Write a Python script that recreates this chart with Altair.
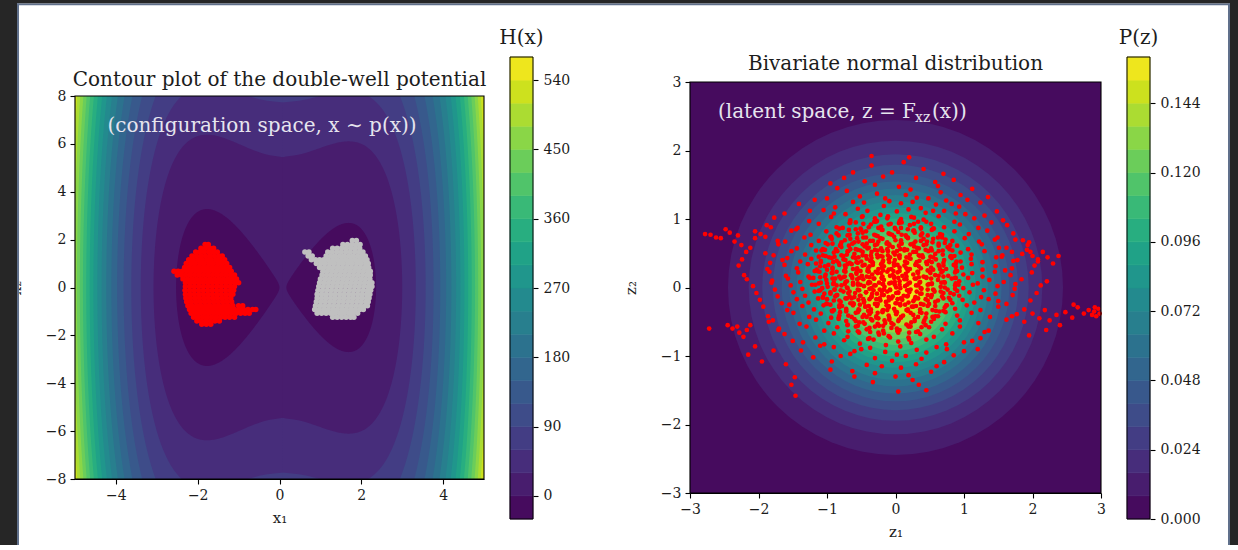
import math
import numpy as np
import pandas as pd
import altair as alt

alt.data_transformers.disable_max_rows()

FONT = "DejaVu Serif"
INK = "#1c1c1c"
NOTE = "#e6e4ee"

# Double-well potential H(x) = Q4*x1^4 + Q2*x1^2 + Q1*x1 + Q22*x2^2
Q4, Q2, Q1, Q22 = 1.0, -6.0, 1.0, 1.0
X1_DOMAIN = [-5, 5]
X2_DOMAIN = [-8, 8]
X1_TICKS = [-4, -2, 0, 2, 4]
X2_TICKS = [-8, -6, -4, -2, 0, 2, 4, 6, 8]
H_LEVELS = [-30, 0, 30, 60, 90, 120, 150, 180, 210, 240, 270, 300, 330,
            360, 390, 420, 450, 480, 510, 540, 570]
H_TICKS = [0, 90, 180, 270, 360, 450, 540]

# Standard bivariate normal density P(z)
Z_DOMAIN = [-3, 3]
Z_TICKS = [-3, -2, -1, 0, 1, 2, 3]
P_LEVELS = [0.000, 0.008, 0.016, 0.024, 0.032, 0.040, 0.048, 0.056, 0.064,
            0.072, 0.080, 0.088, 0.096, 0.104, 0.112, 0.120, 0.128, 0.136,
            0.144, 0.152, 0.160]
P_TICKS = [0.000, 0.024, 0.048, 0.072, 0.096, 0.120, 0.144]

# Samples in configuration space: rows of (x2, [x1 ...])
RED_ROWS = [
    (1.80, [-1.82, -1.74]),
    (1.64, [-1.92, -1.81, -1.70, -1.61]),
    (1.48, [-2.05, -1.95, -1.84, -1.73, -1.63, -1.52]),
    (1.32, [-2.14, -2.03, -1.92, -1.81, -1.70, -1.59, -1.48, -1.40]),
    (1.16, [-2.22, -2.11, -2.00, -1.89, -1.78, -1.67, -1.56, -1.45, -1.34]),
    (1.00, [-2.28, -2.17, -2.06, -1.95, -1.84, -1.73, -1.62, -1.51, -1.40, -1.29]),
    (0.84, [-2.32, -2.21, -2.10, -1.99, -1.88, -1.77, -1.66, -1.55, -1.44, -1.33, -1.22]),
    (0.68, [-2.58, -2.48, -2.38, -2.27, -2.16, -2.05, -1.94, -1.83, -1.72, -1.61, -1.50, -1.39, -1.28, -1.18]),
    (0.52, [-2.50, -2.40, -2.30, -2.19, -2.08, -1.97, -1.86, -1.75, -1.64, -1.53, -1.42, -1.31, -1.20, -1.10]),
    (0.36, [-2.36, -2.25, -2.14, -2.03, -1.92, -1.81, -1.70, -1.59, -1.48, -1.37, -1.26, -1.15, -1.05]),
    (0.20, [-2.30, -2.19, -2.08, -1.97, -1.86, -1.75, -1.64, -1.53, -1.42, -1.31, -1.20, -1.09, -1.00]),
    (0.04, [-2.30, -2.19, -2.08, -1.97, -1.86, -1.75, -1.64, -1.53, -1.42, -1.31, -1.20, -1.10]),
    (-0.12, [-2.31, -2.20, -2.09, -1.98, -1.87, -1.76, -1.65, -1.54, -1.43, -1.32, -1.21, -1.12]),
    (-0.28, [-2.30, -2.19, -2.08, -1.97, -1.86, -1.75, -1.64, -1.53, -1.42, -1.31, -1.20, -1.14]),
    (-0.44, [-2.29, -2.18, -2.07, -1.96, -1.85, -1.74, -1.63, -1.52, -1.41, -1.30, -1.19]),
    (-0.60, [-2.27, -2.16, -2.05, -1.94, -1.83, -1.72, -1.61, -1.50, -1.39, -1.28, -1.17]),
    (-0.76, [-2.24, -2.13, -2.02, -1.91, -1.80, -1.69, -1.58, -1.47, -1.36, -1.25, -1.14, -1.00, -0.90]),
    (-0.92, [-2.20, -2.09, -1.98, -1.87, -1.76, -1.65, -1.54, -1.43, -1.32, -1.21, -1.10, -0.99, -0.88, -0.77, -0.66, -0.58]),
    (-1.08, [-2.16, -2.05, -1.94, -1.83, -1.72, -1.61, -1.50, -1.39, -1.28, -1.17, -1.06, -0.95, -0.84, -0.74]),
    (-1.24, [-2.10, -1.99, -1.88, -1.77, -1.66, -1.55, -1.44, -1.33, -1.22, -1.10]),
    (-1.40, [-2.02, -1.91, -1.80, -1.69, -1.58, -1.47]),
    (-1.54, [-1.90, -1.79, -1.68]),
]
GRAY_ROWS = [
    (1.96, [1.78, 1.88]),
    (1.80, [1.55, 1.66, 1.77, 1.88, 1.97]),
    (1.64, [1.30, 1.41, 1.52, 1.63, 1.74, 1.85, 1.96]),
    (1.48, [0.62, 0.72, 1.18, 1.29, 1.40, 1.51, 1.62, 1.73, 1.84, 1.95, 2.04]),
    (1.32, [0.70, 0.80, 1.14, 1.25, 1.36, 1.47, 1.58, 1.69, 1.80, 1.91, 2.02, 2.10]),
    (1.16, [0.78, 0.88, 0.98, 1.08, 1.19, 1.30, 1.41, 1.52, 1.63, 1.74, 1.85, 1.96, 2.07, 2.14]),
    (1.00, [0.90, 1.01, 1.12, 1.23, 1.34, 1.45, 1.56, 1.67, 1.78, 1.89, 2.00, 2.11, 2.17]),
    (0.84, [0.98, 1.09, 1.20, 1.31, 1.42, 1.53, 1.64, 1.75, 1.86, 1.97, 2.08, 2.18]),
    (0.68, [1.06, 1.17, 1.28, 1.39, 1.50, 1.61, 1.72, 1.83, 1.94, 2.05, 2.16, 2.22]),
    (0.52, [1.04, 1.15, 1.26, 1.37, 1.48, 1.59, 1.70, 1.81, 1.92, 2.03, 2.14, 2.22]),
    (0.36, [1.00, 1.11, 1.22, 1.33, 1.44, 1.55, 1.66, 1.77, 1.88, 1.99, 2.10, 2.21]),
    (0.20, [0.98, 1.09, 1.20, 1.31, 1.42, 1.53, 1.64, 1.75, 1.86, 1.97, 2.08, 2.19, 2.26]),
    (0.04, [0.96, 1.07, 1.18, 1.29, 1.40, 1.51, 1.62, 1.73, 1.84, 1.95, 2.06, 2.17, 2.26]),
    (-0.12, [0.94, 1.05, 1.16, 1.27, 1.38, 1.49, 1.60, 1.71, 1.82, 1.93, 2.04, 2.15, 2.23]),
    (-0.28, [0.92, 1.03, 1.14, 1.25, 1.36, 1.47, 1.58, 1.69, 1.80, 1.91, 2.02, 2.13, 2.21]),
    (-0.44, [0.92, 1.03, 1.14, 1.25, 1.36, 1.47, 1.58, 1.69, 1.80, 1.91, 2.02, 2.13, 2.19]),
    (-0.60, [0.90, 1.01, 1.12, 1.23, 1.34, 1.45, 1.56, 1.67, 1.78, 1.89, 2.00, 2.11, 2.17]),
    (-0.76, [0.88, 0.99, 1.10, 1.21, 1.32, 1.43, 1.54, 1.65, 1.76, 1.87, 1.98, 2.09, 2.15]),
    (-0.92, [0.86, 0.97, 1.08, 1.19, 1.30, 1.41, 1.52, 1.63, 1.74, 1.85, 1.96, 2.05]),
    (-1.08, [0.92, 1.03, 1.14, 1.25, 1.36, 1.47, 1.58, 1.69, 1.80, 1.91]),
    (-1.24, [1.30, 1.41, 1.52, 1.63, 1.74, 1.82]),
]

# Samples in latent space (z1, z2)
Z_CORE = [
    (-0.35, 1.92), (0.12, 1.83), (-0.62, 1.68), (0.41, 1.73), (-0.18, 1.62), (0.85, 1.57),
    (-0.95, 1.52), (0.05, 1.47), (0.58, 1.54),
    (-0.71, 1.41), (-0.27, 1.37), (0.22, 1.43), (0.66, 1.39), (1.12, 1.44),
    (-1.18, 1.28), (-0.52, 1.33), (-0.09, 1.26), (0.31, 1.31), (0.74, 1.27), (1.35, 1.32),
    (-1.41, 1.22), (-0.88, 1.17), (-0.46, 1.24), (-0.17, 1.19), (0.08, 1.23), (0.37, 1.16),
    (0.59, 1.21), (0.93, 1.18), (1.24, 1.24),
    (-1.62, 1.08), (-1.05, 1.13), (-0.73, 1.07), (-0.41, 1.12), (-0.22, 1.06), (0.02, 1.11),
    (0.19, 1.14), (0.44, 1.09), (0.71, 1.12), (1.02, 1.07), (1.48, 1.11),
    (-1.77, 1.02), (-1.26, 0.97), (-0.94, 1.03), (-0.66, 0.98), (-0.48, 1.04), (-0.31, 0.96),
    (-0.12, 1.01), (0.06, 0.97), (0.23, 1.03), (0.41, 0.99), (0.63, 1.04), (0.86, 0.96),
    (1.15, 1.01), (1.57, 0.98),
    (-1.88, 0.91), (-1.43, 0.87), (-1.12, 0.93), (-0.86, 0.88), (-0.67, 0.94), (-0.51, 0.86),
    (-0.36, 0.92), (-0.21, 0.89), (-0.07, 0.93), (0.08, 0.87), (0.21, 0.91), (0.37, 0.86),
    (0.52, 0.93), (0.71, 0.88), (0.94, 0.92), (1.21, 0.87), (1.63, 0.91),
    (-1.97, 0.78), (-1.52, 0.83), (-1.24, 0.77), (-1.01, 0.82), (-0.83, 0.76), (-0.68, 0.84),
    (-0.55, 0.79), (-0.43, 0.82), (-0.31, 0.77), (-0.19, 0.84), (-0.08, 0.78), (0.04, 0.81),
    (0.15, 0.76), (0.27, 0.83), (0.39, 0.79), (0.53, 0.84), (0.68, 0.77), (0.86, 0.82),
    (1.07, 0.78), (1.34, 0.83), (1.72, 0.79),
    (-2.05, 0.72), (-1.61, 0.67), (-1.33, 0.73), (-1.12, 0.68), (-0.94, 0.74), (-0.79, 0.66),
    (-0.66, 0.71), (-0.54, 0.67), (-0.43, 0.73), (-0.33, 0.68), (-0.22, 0.72), (-0.12, 0.66),
    (-0.02, 0.74), (0.08, 0.69), (0.18, 0.73), (0.29, 0.67), (0.41, 0.71), (0.54, 0.66),
    (0.68, 0.73), (0.83, 0.68), (1.01, 0.72), (1.22, 0.67), (1.49, 0.73), (1.86, 0.69),
    (-2.12, 0.58), (-1.71, 0.63), (-1.44, 0.57), (-1.23, 0.62), (-1.06, 0.56), (-0.92, 0.64),
    (-0.79, 0.59), (-0.68, 0.61), (-0.58, 0.56), (-0.48, 0.63), (-0.39, 0.58), (-0.30, 0.62),
    (-0.21, 0.57), (-0.13, 0.64), (-0.04, 0.59), (0.05, 0.61), (0.13, 0.56), (0.22, 0.63),
    (0.31, 0.58), (0.41, 0.62), (0.52, 0.57), (0.63, 0.64), (0.76, 0.59), (0.90, 0.61),
    (1.06, 0.56), (1.26, 0.63), (1.51, 0.58), (1.93, 0.62),
    (-2.18, 0.52), (-1.78, 0.47), (-1.52, 0.53), (-1.32, 0.48), (-1.16, 0.54), (-1.02, 0.46),
    (-0.90, 0.51), (-0.79, 0.47), (-0.69, 0.53), (-0.60, 0.49), (-0.51, 0.54), (-0.43, 0.46),
    (-0.35, 0.52), (-0.27, 0.48), (-0.19, 0.53), (-0.11, 0.47), (-0.03, 0.51), (0.05, 0.46),
    (0.13, 0.54), (0.21, 0.48), (0.30, 0.52), (0.39, 0.47), (0.48, 0.53), (0.58, 0.49),
    (0.69, 0.54), (0.81, 0.46), (0.95, 0.51), (1.11, 0.48), (1.30, 0.53), (1.56, 0.47), (1.97, 0.52),
    (-2.24, 0.41), (-1.83, 0.36), (-1.58, 0.43), (-1.39, 0.38), (-1.23, 0.42), (-1.09, 0.37),
    (-0.97, 0.44), (-0.86, 0.39), (-0.76, 0.41), (-0.67, 0.36), (-0.58, 0.43), (-0.50, 0.38),
    (-0.42, 0.42), (-0.34, 0.37), (-0.26, 0.44), (-0.18, 0.39), (-0.10, 0.41), (-0.02, 0.36),
    (0.06, 0.43), (0.14, 0.38), (0.22, 0.42), (0.31, 0.37), (0.40, 0.44), (0.49, 0.39),
    (0.59, 0.41), (0.70, 0.36), (0.82, 0.43), (0.95, 0.38), (1.10, 0.42), (1.27, 0.37),
    (1.47, 0.44), (1.72, 0.39), (2.08, 0.41),
    (-2.29, 0.32), (-1.87, 0.27), (-1.62, 0.33), (-1.44, 0.28), (-1.28, 0.34), (-1.15, 0.26),
    (-1.03, 0.31), (-0.92, 0.27), (-0.82, 0.33), (-0.73, 0.29), (-0.64, 0.34), (-0.56, 0.26),
    (-0.48, 0.32), (-0.40, 0.28), (-0.33, 0.33), (-0.25, 0.27), (-0.17, 0.31), (-0.10, 0.26),
    (-0.02, 0.34), (0.06, 0.29), (0.13, 0.32), (0.21, 0.27), (0.29, 0.33), (0.37, 0.28),
    (0.46, 0.34), (0.55, 0.26), (0.64, 0.31), (0.74, 0.27), (0.85, 0.33), (0.97, 0.29),
    (1.11, 0.34), (1.27, 0.26), (1.46, 0.31), (1.70, 0.28), (2.03, 0.32),
    (-2.21, 0.18), (-1.84, 0.23), (-1.60, 0.17), (-1.42, 0.22), (-1.27, 0.16), (-1.14, 0.24),
    (-1.02, 0.19), (-0.92, 0.21), (-0.82, 0.16), (-0.73, 0.23), (-0.65, 0.18), (-0.57, 0.22),
    (-0.49, 0.17), (-0.41, 0.24), (-0.34, 0.19), (-0.26, 0.21), (-0.19, 0.16), (-0.12, 0.23),
    (-0.04, 0.18), (0.03, 0.22), (0.10, 0.17), (0.18, 0.24), (0.26, 0.19), (0.33, 0.21),
    (0.41, 0.16), (0.50, 0.23), (0.58, 0.18), (0.67, 0.22), (0.77, 0.17), (0.88, 0.24),
    (0.99, 0.19), (1.12, 0.21), (1.27, 0.16), (1.45, 0.23), (1.68, 0.18), (1.99, 0.22),
    (-2.17, 0.12), (-1.81, 0.07), (-1.57, 0.13), (-1.39, 0.08), (-1.25, 0.14), (-1.12, 0.06),
    (-1.01, 0.11), (-0.90, 0.07), (-0.80, 0.13), (-0.71, 0.09), (-0.63, 0.14), (-0.55, 0.06),
    (-0.47, 0.12), (-0.39, 0.08), (-0.32, 0.13), (-0.24, 0.07), (-0.17, 0.11), (-0.09, 0.06),
    (-0.02, 0.14), (0.06, 0.09), (0.13, 0.12), (0.21, 0.07), (0.28, 0.13), (0.36, 0.08),
    (0.45, 0.14), (0.53, 0.06), (0.62, 0.11), (0.72, 0.07), (0.82, 0.13), (0.93, 0.09),
    (1.06, 0.14), (1.20, 0.06), (1.37, 0.11), (1.58, 0.08), (1.84, 0.12), (2.21, 0.09),
    (-2.08, 0.02), (-1.76, -0.03), (-1.53, 0.03), (-1.36, -0.02), (-1.22, 0.04), (-1.10, -0.04),
    (-0.99, 0.01), (-0.89, -0.03), (-0.79, 0.03), (-0.70, -0.01), (-0.62, 0.04), (-0.54, -0.04),
    (-0.46, 0.02), (-0.38, -0.02), (-0.31, 0.03), (-0.23, -0.03), (-0.16, 0.01), (-0.08, -0.04),
    (-0.01, 0.04), (0.07, -0.01), (0.14, 0.02), (0.22, -0.03), (0.30, 0.03), (0.38, -0.02),
    (0.47, 0.04), (0.56, -0.04), (0.66, 0.01), (0.76, -0.03), (0.87, 0.03), (0.99, -0.01),
    (1.13, 0.04), (1.29, -0.04), (1.49, 0.02), (1.74, -0.02), (2.12, 0.03),
    (-2.03, -0.08), (-1.72, -0.13), (-1.49, -0.07), (-1.32, -0.12), (-1.18, -0.06), (-1.06, -0.14),
    (-0.95, -0.09), (-0.85, -0.11), (-0.76, -0.06), (-0.67, -0.13), (-0.59, -0.08), (-0.51, -0.12),
    (-0.43, -0.07), (-0.35, -0.14), (-0.27, -0.09), (-0.20, -0.11), (-0.12, -0.06), (-0.04, -0.13),
    (0.04, -0.08), (0.12, -0.12), (0.20, -0.07), (0.29, -0.14), (0.38, -0.09), (0.47, -0.11),
    (0.57, -0.06), (0.68, -0.13), (0.80, -0.08), (0.93, -0.12), (1.08, -0.07), (1.25, -0.14),
    (1.46, -0.09), (1.71, -0.11), (2.06, -0.08),
    (-1.98, -0.18), (-1.66, -0.23), (-1.44, -0.17), (-1.27, -0.22), (-1.13, -0.16), (-1.01, -0.24),
    (-0.90, -0.19), (-0.80, -0.21), (-0.71, -0.16), (-0.62, -0.23), (-0.54, -0.18), (-0.46, -0.22),
    (-0.38, -0.17), (-0.30, -0.24), (-0.22, -0.19), (-0.14, -0.21), (-0.06, -0.16), (0.02, -0.23),
    (0.10, -0.18), (0.19, -0.22), (0.28, -0.17), (0.37, -0.24), (0.47, -0.19), (0.58, -0.21),
    (0.70, -0.16), (0.83, -0.23), (0.98, -0.18), (1.15, -0.22), (1.36, -0.17), (1.62, -0.24), (1.97, -0.19),
    (-1.93, -0.28), (-1.58, -0.33), (-1.36, -0.27), (-1.19, -0.32), (-1.05, -0.26), (-0.93, -0.34),
    (-0.82, -0.29), (-0.72, -0.31), (-0.62, -0.26), (-0.53, -0.33), (-0.44, -0.28), (-0.36, -0.32),
    (-0.27, -0.27), (-0.19, -0.34), (-0.10, -0.29), (-0.02, -0.31), (0.07, -0.26), (0.16, -0.33),
    (0.26, -0.28), (0.36, -0.32), (0.47, -0.27), (0.59, -0.34), (0.72, -0.29), (0.87, -0.31),
    (1.04, -0.26), (1.24, -0.33), (1.50, -0.28), (1.88, -0.32),
    (-1.86, -0.42), (-1.49, -0.37), (-1.26, -0.43), (-1.09, -0.38), (-0.94, -0.44), (-0.81, -0.36),
    (-0.69, -0.41), (-0.58, -0.37), (-0.48, -0.43), (-0.38, -0.39), (-0.28, -0.42), (-0.19, -0.36),
    (-0.09, -0.44), (0.01, -0.39), (0.11, -0.41), (0.22, -0.37), (0.33, -0.43), (0.45, -0.38),
    (0.58, -0.42), (0.73, -0.36), (0.90, -0.41), (1.11, -0.37), (1.38, -0.43), (1.77, -0.39),
    (-1.79, -0.48), (-1.40, -0.53), (-1.16, -0.47), (-0.98, -0.52), (-0.83, -0.46), (-0.70, -0.54),
    (-0.58, -0.49), (-0.47, -0.51), (-0.36, -0.46), (-0.26, -0.53), (-0.16, -0.48), (-0.06, -0.52),
    (0.05, -0.47), (0.16, -0.54), (0.28, -0.49), (0.41, -0.51), (0.56, -0.46), (0.73, -0.53),
    (0.94, -0.48), (1.21, -0.52), (1.62, -0.47),
    (-1.71, -0.62), (-1.30, -0.57), (-1.04, -0.63), (-0.85, -0.58), (-0.69, -0.64), (-0.55, -0.56),
    (-0.42, -0.61), (-0.30, -0.57), (-0.18, -0.63), (-0.06, -0.59), (0.06, -0.62), (0.19, -0.56),
    (0.33, -0.64), (0.49, -0.58), (0.68, -0.61), (0.94, -0.57), (1.36, -0.63),
    (-1.62, -0.68), (-1.17, -0.73), (-0.90, -0.67), (-0.70, -0.72), (-0.53, -0.66), (-0.38, -0.74),
    (-0.24, -0.69), (-0.10, -0.71), (0.04, -0.66), (0.19, -0.73), (0.36, -0.68), (0.56, -0.72),
    (0.83, -0.67), (1.24, -0.74),
    (-1.50, -0.78), (-1.04, -0.83), (-0.75, -0.77), (-0.52, -0.82), (-0.32, -0.76), (-0.14, -0.84),
    (0.04, -0.79), (0.23, -0.81), (0.45, -0.76), (0.74, -0.83), (1.12, -0.78),
    (-1.38, -0.92), (-0.90, -0.87), (-0.60, -0.93), (-0.37, -0.88), (-0.15, -0.94), (0.07, -0.86),
    (0.31, -0.91), (0.60, -0.87), (1.00, -0.93),
    (-1.20, -1.02), (-0.66, -0.97), (-0.30, -1.03), (0.02, -0.98), (0.38, -1.04), (0.85, -0.99),
    (-0.93, -1.08), (-0.42, -1.13), (-0.05, -1.07), (0.30, -1.12), (0.71, -1.09),
    (-0.63, -1.22), (0.08, -1.17), (0.52, -1.23),
    (-1.47, -1.31), (0.19, -1.28), (-0.33, -1.38), (0.34, -1.42), (0.04, -1.52), (-1.46, -1.58),
]
Z_INNER = [
    (-0.58, 0.95), (-0.27, 0.97), (0.05, 0.94), (0.33, 0.96),
    (-0.82, 0.86), (-0.50, 0.84), (-0.25, 0.87), (0.00, 0.85), (0.26, 0.83), (0.55, 0.86),
    (-0.95, 0.74), (-0.70, 0.76), (-0.47, 0.73), (-0.26, 0.75), (-0.05, 0.77), (0.16, 0.74),
    (0.37, 0.76), (0.62, 0.73),
    (-1.02, 0.65), (-0.80, 0.63), (-0.60, 0.66), (-0.42, 0.64), (-0.25, 0.67), (-0.09, 0.63),
    (0.08, 0.66), (0.26, 0.64), (0.46, 0.67), (0.72, 0.65),
    (-1.08, 0.54), (-0.87, 0.56), (-0.70, 0.53), (-0.55, 0.55), (-0.41, 0.57), (-0.26, 0.54),
    (-0.12, 0.56), (0.02, 0.53), (0.17, 0.55), (0.34, 0.57), (0.53, 0.54), (0.79, 0.56),
    (-1.12, 0.45), (-0.93, 0.43), (-0.76, 0.46), (-0.62, 0.44), (-0.48, 0.47), (-0.35, 0.43),
    (-0.22, 0.46), (-0.08, 0.44), (0.06, 0.47), (0.20, 0.43), (0.36, 0.46), (0.55, 0.44), (0.80, 0.45),
    (-1.16, 0.35), (-0.98, 0.33), (-0.83, 0.36), (-0.70, 0.34), (-0.57, 0.37), (-0.45, 0.33),
    (-0.33, 0.36), (-0.21, 0.34), (-0.09, 0.37), (0.03, 0.33), (0.16, 0.36), (0.30, 0.34),
    (0.45, 0.37), (0.63, 0.33), (0.88, 0.35),
    (-1.18, 0.24), (-1.00, 0.26), (-0.86, 0.23), (-0.74, 0.25), (-0.62, 0.27), (-0.51, 0.24),
    (-0.40, 0.26), (-0.29, 0.23), (-0.18, 0.25), (-0.06, 0.27), (0.06, 0.24), (0.18, 0.26),
    (0.32, 0.23), (0.47, 0.25), (0.65, 0.27), (0.90, 0.24),
    (-1.20, 0.14), (-1.03, 0.16), (-0.88, 0.13), (-0.76, 0.15), (-0.64, 0.17), (-0.53, 0.14),
    (-0.42, 0.16), (-0.31, 0.13), (-0.20, 0.15), (-0.08, 0.17), (0.04, 0.14), (0.16, 0.16),
    (0.30, 0.13), (0.45, 0.15), (0.63, 0.17), (0.87, 0.14),
    (-1.17, 0.04), (-1.00, 0.06), (-0.86, 0.03), (-0.74, 0.05), (-0.62, 0.07), (-0.51, 0.04),
    (-0.40, 0.06), (-0.29, 0.03), (-0.18, 0.05), (-0.06, 0.07), (0.06, 0.04), (0.19, 0.06),
    (0.33, 0.03), (0.49, 0.05), (0.67, 0.07), (0.92, 0.04),
    (-1.12, -0.05), (-0.95, -0.07), (-0.80, -0.04), (-0.67, -0.06), (-0.55, -0.03), (-0.43, -0.07),
    (-0.32, -0.04), (-0.20, -0.06), (-0.08, -0.03), (0.04, -0.07), (0.17, -0.04), (0.31, -0.06),
    (0.47, -0.03), (0.66, -0.06), (0.90, -0.05),
    (-1.06, -0.15), (-0.88, -0.13), (-0.73, -0.16), (-0.60, -0.14), (-0.47, -0.17), (-0.35, -0.13),
    (-0.23, -0.16), (-0.10, -0.14), (0.03, -0.17), (0.17, -0.13), (0.33, -0.16), (0.52, -0.14), (0.78, -0.15),
    (-1.00, -0.24), (-0.82, -0.26), (-0.66, -0.23), (-0.52, -0.25), (-0.39, -0.27), (-0.26, -0.24),
    (-0.13, -0.26), (0.00, -0.23), (0.14, -0.25), (0.30, -0.27), (0.49, -0.24), (0.74, -0.26),
    (-0.92, -0.35), (-0.72, -0.33), (-0.55, -0.36), (-0.40, -0.34), (-0.26, -0.37), (-0.12, -0.33),
    (0.02, -0.36), (0.18, -0.34), (0.38, -0.37), (0.64, -0.35),
    (-0.83, -0.44), (-0.60, -0.46), (-0.42, -0.43), (-0.25, -0.45), (-0.09, -0.47), (0.08, -0.44),
    (0.28, -0.46), (0.54, -0.43),
    (-0.70, -0.55), (-0.45, -0.53), (-0.24, -0.56), (-0.03, -0.54), (0.19, -0.57), (0.44, -0.55),
    (-0.55, -0.64), (-0.25, -0.66), (0.03, -0.63), (0.30, -0.65),
    (-0.40, -0.75), (-0.08, -0.73), (0.20, -0.76),
]
Z_DENSE = [
    (-0.49, 1.03), (-0.30, 1.01), (-0.11, 1.04), (0.08, 1.00), (0.27, 1.02),
    (-0.66, 0.95), (-0.47, 0.93), (-0.29, 0.96), (-0.10, 0.92), (0.09, 0.95), (0.27, 0.93), (0.45, 0.96),
    (-0.77, 0.87), (-0.58, 0.85), (-0.39, 0.88), (-0.20, 0.84), (-0.01, 0.87), (0.18, 0.85),
    (0.37, 0.88), (0.56, 0.86),
    (-0.86, 0.79), (-0.67, 0.77), (-0.48, 0.80), (-0.29, 0.76), (-0.10, 0.79), (0.09, 0.77),
    (0.28, 0.80), (0.47, 0.76), (0.65, 0.78),
    (-0.93, 0.71), (-0.74, 0.69), (-0.56, 0.72), (-0.37, 0.68), (-0.19, 0.71), (0.00, 0.69),
    (0.18, 0.72), (0.37, 0.68), (0.55, 0.71), (0.73, 0.70),
    (-0.99, 0.63), (-0.81, 0.61), (-0.63, 0.64), (-0.45, 0.60), (-0.27, 0.63), (-0.09, 0.61),
    (0.09, 0.64), (0.27, 0.60), (0.45, 0.63), (0.63, 0.61), (0.80, 0.62),
    (-1.03, 0.55), (-0.85, 0.53), (-0.66, 0.56), (-0.48, 0.52), (-0.30, 0.55), (-0.11, 0.53),
    (0.07, 0.56), (0.26, 0.52), (0.44, 0.55), (0.63, 0.53), (0.83, 0.54),
    (-1.06, 0.47), (-0.89, 0.45), (-0.71, 0.48), (-0.54, 0.44), (-0.36, 0.47), (-0.19, 0.45),
    (-0.01, 0.48), (0.16, 0.44), (0.34, 0.47), (0.51, 0.45), (0.69, 0.48), (0.86, 0.46),
    (-1.09, 0.39), (-0.91, 0.37), (-0.73, 0.40), (-0.55, 0.36), (-0.37, 0.39), (-0.19, 0.37),
    (-0.01, 0.40), (0.17, 0.36), (0.35, 0.39), (0.53, 0.37), (0.71, 0.40), (0.89, 0.38),
    (-1.10, 0.31), (-0.92, 0.29), (-0.74, 0.32), (-0.56, 0.28), (-0.38, 0.31), (-0.20, 0.29),
    (-0.02, 0.32), (0.16, 0.28), (0.34, 0.31), (0.52, 0.29), (0.70, 0.32), (0.88, 0.30),
    (-1.11, 0.23), (-0.93, 0.21), (-0.75, 0.24), (-0.57, 0.20), (-0.39, 0.23), (-0.21, 0.21),
    (-0.03, 0.24), (0.15, 0.20), (0.33, 0.23), (0.51, 0.21), (0.69, 0.24), (0.87, 0.22),
    (-1.10, 0.15), (-0.92, 0.13), (-0.74, 0.16), (-0.56, 0.12), (-0.38, 0.15), (-0.20, 0.13),
    (-0.02, 0.16), (0.16, 0.12), (0.34, 0.15), (0.52, 0.13), (0.70, 0.16), (0.88, 0.14),
    (-1.09, 0.07), (-0.91, 0.05), (-0.73, 0.08), (-0.55, 0.04), (-0.37, 0.07), (-0.19, 0.05),
    (-0.01, 0.08), (0.17, 0.04), (0.35, 0.07), (0.53, 0.05), (0.71, 0.08), (0.88, 0.06),
    (-1.07, -0.01), (-0.89, -0.03), (-0.71, 0.00), (-0.53, -0.04), (-0.35, -0.01), (-0.17, -0.03),
    (0.01, 0.00), (0.19, -0.04), (0.37, -0.01), (0.55, -0.03), (0.72, 0.00), (0.87, -0.02),
    (-1.04, -0.09), (-0.86, -0.11), (-0.69, -0.08), (-0.52, -0.12), (-0.34, -0.09), (-0.17, -0.11),
    (0.01, -0.08), (0.18, -0.12), (0.36, -0.09), (0.53, -0.11), (0.70, -0.08), (0.85, -0.10),
    (-1.00, -0.17), (-0.82, -0.19), (-0.64, -0.16), (-0.46, -0.20), (-0.28, -0.17), (-0.10, -0.19),
    (0.08, -0.16), (0.26, -0.20), (0.44, -0.17), (0.62, -0.19), (0.80, -0.18),
    (-0.95, -0.25), (-0.78, -0.27), (-0.61, -0.24), (-0.44, -0.28), (-0.27, -0.25), (-0.10, -0.27),
    (0.07, -0.24), (0.24, -0.28), (0.41, -0.25), (0.58, -0.27), (0.75, -0.26),
    (-0.90, -0.33), (-0.72, -0.35), (-0.54, -0.32), (-0.36, -0.36), (-0.18, -0.33), (0.00, -0.35),
    (0.18, -0.32), (0.36, -0.36), (0.54, -0.33), (0.70, -0.34),
    (-0.82, -0.41), (-0.64, -0.43), (-0.46, -0.40), (-0.28, -0.44), (-0.10, -0.41), (0.08, -0.43),
    (0.26, -0.40), (0.44, -0.44), (0.62, -0.42),
    (-0.72, -0.49), (-0.53, -0.51), (-0.34, -0.48), (-0.15, -0.52), (0.04, -0.49), (0.23, -0.51),
    (0.42, -0.48), (0.52, -0.50),
    (-0.58, -0.57), (-0.38, -0.59), (-0.18, -0.56), (0.02, -0.60), (0.22, -0.57), (0.38, -0.58),
    (-0.37, -0.65), (-0.17, -0.67), (0.03, -0.64), (0.20, -0.66),
]
Z_OUTER = [
    (-0.85, 1.45), (-0.45, 1.55), (-0.05, 1.68), (0.30, 1.60), (0.62, 1.48), (0.95, 1.35),
    (-1.00, 1.30), (-0.62, 1.25), (-0.30, 1.50), (0.15, 1.35), (0.48, 1.30), (0.82, 1.22),
    (1.05, 1.28), (-1.25, 1.12), (-0.90, 1.08), (-0.55, 1.15), (-0.15, 1.30), (0.25, 1.25),
    (0.55, 1.12), (0.88, 1.08), (1.30, 1.05), (-0.35, 1.78), (0.20, 1.90), (-0.75, 1.60),
    (0.70, 1.66),
    (-1.10, -0.85), (-0.80, -1.00), (-0.50, -0.90), (-0.20, -1.15), (0.15, -1.00), (0.45, -0.95),
    (0.75, -0.90), (1.00, -0.80), (-0.95, -1.20), (-0.60, -1.30), (0.00, -1.30), (0.25, -1.35),
    (0.60, -1.15), (-0.30, -1.25), (0.45, -1.50),
    (-1.65, 0.40), (-1.80, 0.10), (-1.55, -0.25), (-1.70, -0.60), (-1.45, 0.85), (-1.90, 0.50),
    (-1.35, -0.80), (1.45, 0.70), (1.60, 0.25), (1.50, -0.20), (1.30, -0.65), (1.75, 0.05),
    (1.40, 0.95), (1.20, -0.90),
]
Z_TAILS = [
    (-2.78, 0.78), (-2.70, 0.77), (-2.62, 0.73), (-2.55, 0.72), (-2.48, 0.85), (-2.42, 0.80),
    (-2.35, 0.67), (-2.30, 0.76), (-2.25, 0.62), (-2.05, 0.82), (-1.90, 0.74), (-1.82, 0.88),
    (-1.72, 0.68),
    (-2.72, -0.60), (-2.45, -0.55), (-2.38, -0.60), (-2.31, -0.57), (-2.28, -0.66), (-2.22, -0.72),
    (-2.17, -0.62), (-2.12, -0.55), (-2.15, -0.98), (-2.05, -0.86), (-1.95, -1.08), (-1.85, -0.50),
    (-1.78, -0.92), (-1.60, -1.12), (-1.52, -1.42),
    (1.55, 0.45), (1.62, 0.58), (1.70, 0.52), (1.78, 0.40), (1.85, 0.49), (1.92, 0.55),
    (2.00, 0.46), (2.08, 0.38), (2.15, 0.52), (2.22, 0.44), (2.30, 0.35), (2.38, 0.46),
    (1.75, 0.70), (1.95, 0.66),
    (1.70, -0.42), (1.88, -0.50), (2.00, -0.38), (2.10, -0.45), (2.18, -0.33), (2.25, -0.48),
    (2.35, -0.40), (2.48, -0.36), (2.58, -0.44), (2.66, -0.29), (2.75, -0.38), (2.82, -0.33),
    (2.87, -0.40), (2.90, -0.35), (2.93, -0.42), (2.96, -0.31), (2.98, -0.38), (2.91, -0.29),
    (2.60, -0.25), (2.40, -0.55), (1.95, -0.70), (2.20, -0.62),
]

# ---------------------------------------------------------------- layout (px)
LEFT_W, LEFT_H, LEFT_TOP = 409, 422, 39
CB_W, CB_H = 23, 462
SPACER_W = 105
RIGHT_W, RIGHT_H, RIGHT_TOP = 411, 436, 25
GAP = 26
LAST_X, TOP_Y = 1127, 57      # page origin of the last panel

ONE = pd.DataFrame({"k": [0]})


# ---------------------------------------------------------------- contour geometry
def h_row(x1):
    return Q4 * x1 ** 4 + Q2 * x1 ** 2 + Q1 * x1


P0, P1, P2 = np.sort(np.roots([4 * Q4, 0.0, 2 * Q2, Q1]).real)


def solve(c, lo, hi):
    """x in [lo, hi] with h_row(x) == c on a monotone stretch."""
    flo, fhi = h_row(lo), h_row(hi)
    rising = fhi > flo
    c = np.clip(c, min(flo, fhi), max(flo, fhi))
    a = np.full(c.shape, float(lo))
    b = np.full(c.shape, float(hi))
    for _ in range(50):
        m = 0.5 * (a + b)
        below = h_row(m) < c
        right = below if rising else ~below
        a = np.where(right, m, a)
        b = np.where(right, b, m)
    return 0.5 * (a + b)


rows = []
for L in H_LEVELS[1:-1]:
    for part, fmin in (("A", h_row(P0)), ("B", h_row(P2))):
        if L <= fmin:
            continue
        ymax = math.sqrt((L - fmin) / Q22)
        if ymax < X2_DOMAIN[1]:
            ys_ = ymax * np.sin(np.linspace(-np.pi / 2, np.pi / 2, 241))
        else:
            ys_ = np.linspace(X2_DOMAIN[0], X2_DOMAIN[1], 241)
        c = L - Q22 * ys_ ** 2
        merged = c > h_row(P1)
        if part == "A":
            lo = solve(c, X1_DOMAIN[0], P0)
            hi = np.where(merged, P1 + 0.006, solve(c, P0, P1))
        else:
            lo = np.where(merged, P1 - 0.006, solve(c, P1, P2))
            hi = solve(c, P2, X1_DOMAIN[1])
        for yy, a, b in zip(ys_, lo, hi):
            rows.append((L, part, round(float(yy), 4), round(float(a), 4),
                         round(float(b), 4), L - 15))
contour = pd.DataFrame(rows, columns=["lvl", "part", "y", "xa", "xb", "v"])

red = pd.DataFrame([(x1, x2) for x2, xs in RED_ROWS for x1 in xs], columns=["x1", "x2"])
gray = pd.DataFrame([(x1, x2) for x2, xs in GRAY_ROWS for x1 in xs], columns=["x1", "x2"])
zpts = pd.DataFrame(Z_CORE + Z_INNER + Z_DENSE + Z_OUTER + Z_TAILS, columns=["z1", "z2"])

disk_lv = P_LEVELS[1:-1]
disks = pd.DataFrame({
    "cx": 0.0, "cy": 0.0,
    "r": [math.sqrt(2 * math.log(1 / (2 * math.pi * p))) for p in disk_lv],
    "v": [p + 0.004 for p in disk_lv],
})

# ---------------------------------------------------------------- scales & axes
hx = alt.Scale(domain=X1_DOMAIN, nice=False, zero=False)
hy = alt.Scale(domain=X2_DOMAIN, range=[LEFT_H, LEFT_TOP], nice=False, zero=False)
hcol = alt.Scale(scheme="viridis", domain=[H_LEVELS[0], H_LEVELS[-1]])
zx = alt.Scale(domain=Z_DOMAIN, nice=False, zero=False)
zy = alt.Scale(domain=Z_DOMAIN, range=[RIGHT_H, RIGHT_TOP], nice=False, zero=False)
pcol = alt.Scale(scheme="viridis", domain=[P_LEVELS[0], P_LEVELS[-1]])

AX_H1 = alt.Axis(values=X1_TICKS, title="x₁", titlePadding=8)
AX_H2 = alt.Axis(values=X2_TICKS, title="x₂", titlePadding=22)
AX_Z1 = alt.Axis(values=Z_TICKS, title="z₁", titlePadding=8)
AX_Z2 = alt.Axis(values=Z_TICKS, title="z₂", titlePadding=22)


def text_layer(txt, size, x, y, color=INK, align="center", dx=0, dy=0):
    return alt.Chart(ONE).mark_text(text=txt, font=FONT, fontSize=size, color=color,
                                    baseline="middle", align=align, dx=dx, dy=dy).encode(
        x=alt.value(x), y=alt.value(y))


# ---------------------------------------------------------------- left: double well
def hx_(f):
    return alt.X(f, scale=hx, axis=AX_H1)


def hy_(f):
    return alt.Y(f, scale=hy, axis=AX_H2)


left_layers = [
    alt.Chart(pd.DataFrame({"x": [-5], "x2": [5], "y": [-8], "y2": [8],
                            "v": [H_LEVELS[-1] - 15]}))
    .mark_rect().encode(x=hx_("x:Q"), x2="x2:Q", y=hy_("y:Q"), y2="y2:Q",
                        color=alt.Color("v:Q", scale=hcol, legend=None))
]
for L in reversed(H_LEVELS[1:-1]):
    left_layers.append(
        alt.Chart(contour).transform_filter(alt.datum.lvl == L)
        .mark_area(orient="horizontal", interpolate="linear", clip=True)
        .encode(
            y=hy_("y:Q"),
            x=alt.X("xa:Q", scale=hx, axis=AX_H1, stack=None), x2="xb:Q",
            color=alt.Color("v:Q", scale=hcol, legend=None),
            detail="part:N")
    )
left_layers += [
    alt.Chart(red).mark_circle(size=30, color="#ff0000", opacity=1).encode(
        x=hx_("x1:Q"), y=hy_("x2:Q")),
    alt.Chart(gray).mark_circle(size=30, color="#c0c0c0", opacity=1).encode(
        x=hx_("x1:Q"), y=hy_("x2:Q")),
    alt.Chart(pd.DataFrame({"x": [-5], "x2": [5], "y": [-8], "y2": [8]}))
    .mark_rect(fillOpacity=0, stroke="black", strokeWidth=1.1).encode(
        x=hx_("x:Q"), x2="x2:Q", y=hy_("y:Q"), y2="y2:Q"),
    text_layer("Contour plot of the double-well potential", 20, LEFT_W / 2, LEFT_TOP - 16),
    text_layer("(configuration space, x ∼ p(x))", 20, 187, 69, NOTE),
]
left = alt.layer(*left_layers).properties(width=LEFT_W, height=LEFT_H)


# ---------------------------------------------------------------- colour bars
def colorbar(levels, ticks, fmt, scale, title):
    bands = pd.DataFrame({"lo": levels[:-1], "hi": levels[1:]})
    bands["v"] = (bands["lo"] + bands["hi"]) / 2
    cy = alt.Scale(domain=[levels[0], levels[-1]], nice=False, zero=False)
    ax = alt.Axis(values=ticks, format=fmt, orient="right", domain=False,
                  title=None, labelPadding=5)
    return alt.layer(
        alt.Chart(bands).mark_rect(strokeWidth=0.6).encode(
            x=alt.value(0), x2=alt.value(CB_W),
            y=alt.Y("lo:Q", scale=cy, axis=ax), y2="hi:Q",
            color=alt.Color("v:Q", scale=scale, legend=None),
            stroke=alt.Stroke("v:Q", scale=scale, legend=None)),
        alt.Chart(pd.DataFrame({"lo": [levels[0]], "hi": [levels[-1]]}))
        .mark_rect(fillOpacity=0, stroke="black", strokeWidth=1).encode(
            x=alt.value(0), x2=alt.value(CB_W),
            y=alt.Y("lo:Q", scale=cy, axis=ax), y2="hi:Q"),
        text_layer(title, 20, CB_W / 2, -19),
    ).properties(width=CB_W, height=CB_H)


cb_left = colorbar(H_LEVELS, H_TICKS, "d", hcol, "H(x)")

spacer = alt.Chart(ONE).mark_point(opacity=0).encode(
    x=alt.value(0), y=alt.value(0)).properties(width=SPACER_W, height=CB_H)


# ---------------------------------------------------------------- right: latent normal
def zx_(f):
    return alt.X(f, scale=zx, axis=AX_Z1)


def zy_(f):
    return alt.Y(f, scale=zy, axis=AX_Z2)


NOTE_X, NOTE_Y = 28, 55
right = alt.layer(
    alt.Chart(pd.DataFrame({"x": [-3], "x2": [3], "y": [-3], "y2": [3],
                            "v": [P_LEVELS[0] + 0.004]}))
    .mark_rect().encode(x=zx_("x:Q"), x2="x2:Q", y=zy_("y:Q"), y2="y2:Q",
                        color=alt.Color("v:Q", scale=pcol, legend=None)),
    alt.Chart(disks).mark_arc(theta=0, theta2=2 * math.pi).encode(
        x=zx_("cx:Q"), y=zy_("cy:Q"),
        radius=alt.Radius("r:Q", scale=alt.Scale(type="linear", domain=[0, 3],
                                                 range=[0, RIGHT_W / 2]), stack=None),
        color=alt.Color("v:Q", scale=pcol, legend=None)),
    alt.Chart(zpts).mark_circle(size=22, color="#ff0000", opacity=1).encode(
        x=zx_("z1:Q"), y=zy_("z2:Q")),
    alt.Chart(pd.DataFrame({"x": [-3], "x2": [3], "y": [-3], "y2": [3]}))
    .mark_rect(fillOpacity=0, stroke="black", strokeWidth=1.1).encode(
        x=zx_("x:Q"), x2="x2:Q", y=zy_("y:Q"), y2="y2:Q"),
    text_layer("Bivariate normal distribution", 20, RIGHT_W / 2, RIGHT_TOP - 18),
    text_layer("(latent space, z = F", 20, NOTE_X, NOTE_Y, NOTE, align="left"),
    text_layer("xz", 14, NOTE_X, NOTE_Y, NOTE, align="left", dx=197, dy=6),
    text_layer("(x))", 20, NOTE_X, NOTE_Y, NOTE, align="left", dx=214),
).properties(width=RIGHT_W, height=RIGHT_H)


# ---------------------------------------------------------------- outer page frame
def px_rect(x0, x1, y0, y1, color):
    return alt.Chart(ONE).mark_rect(color=color).encode(
        x=alt.value(x0 - LAST_X), x2=alt.value(x1 - LAST_X),
        y=alt.value(y0 - TOP_Y), y2=alt.value(y1 - TOP_Y))


DARK, EDGE = "#262626", "#60708b"
frame = [
    px_rect(0, 17, 0, 545, DARK),
    px_rect(0, 1238, 0, 3.5, DARK),
    px_rect(1230, 1238, 0, 545, DARK),
    px_rect(17, 19, 3.5, 545, EDGE),
    px_rect(17, 1230, 3.5, 5.3, EDGE),
    px_rect(1228, 1230, 3.5, 545, EDGE),
]
cb_right = alt.layer(colorbar(P_LEVELS, P_TICKS, ".3f", pcol, "P(z)"), *frame)

chart = alt.hconcat(
    left, cb_left, spacer, right, cb_right, spacing=GAP, bounds="flush"
).resolve_scale(
    color="independent", stroke="independent", x="independent", y="independent"
).configure(
    background="white", padding=0, font=FONT
).configure_view(
    stroke=None
).configure_axis(
    labelFont=FONT, labelFontSize=14, labelColor=INK, labelPadding=4,
    labelFlush=False, labelOverlap=False,
    titleFont=FONT, titleFontSize=15, titleFontWeight="normal", titleColor=INK,
    domainColor="black", domainWidth=1.1, tickColor="black", tickWidth=1.1,
    tickSize=5, grid=False,
)

chart.save("out.html", embed_options={"renderer": "svg", "actions": False})
